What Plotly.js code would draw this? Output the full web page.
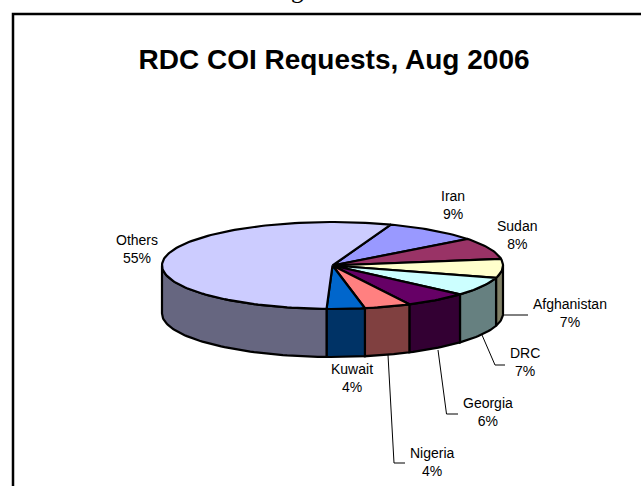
<!DOCTYPE html>
<html><head><meta charset="utf-8">
<script src="https://cdn.plot.ly/plotly-3.0.1.min.js"></script>
<style>html,body{margin:0;padding:0;background:#fff}#c{width:641px;height:486px}</style>
</head><body><div id="c"></div>
<script>
const categories = ["Iran","Sudan","Afghanistan","DRC","Georgia","Nigeria","Kuwait","Others"];
const values = [9,8,7,7,6,4.4,3.6,55];
const topColors = ["#9999FF","#993366","#FFFFCC","#CCFFFF","#660066","#FF8080","#0066CC","#CCCCFF"];
const sideColors = ["#4C4C80","#4C1933","#808066","#668080","#330033","#804040","#003366","#666680"];
const labelX = [453,517,570,525,488,432,352,137];
const labelY = [205,235,313,362,412,462,378,249];
const leaderX = [null,null,[503,528],[482,495,505],[438,446.5,458],[388,394,405],null,null];
const leaderY = [null,null,[315,315],[335,365,365],[350,414,414],[355,463,463],null,null];
const chartTitle = "RDC COI Requests, Aug 2006";

// Pie geometry, in page pixels
const cx=332.5, cy=265.5, rx=170.5, ry=43.5, depth=48, startDeg=20;
const px=t=>cx+rx*Math.sin(t*Math.PI/180), py=t=>cy-ry*Math.cos(t*Math.PI/180);
const total=values.reduce((a,b)=>a+b,0);
const black='#000';
const traces=[];
function arc(a,b,off){const xs=[],ys=[];const n=Math.max(2,Math.ceil((b-a)/1.5));
  for(let i=0;i<=n;i++){const t=a+(b-a)*i/n;xs.push(px(t));ys.push(py(t)+off);}return [xs,ys];}
function poly(x,y,fill,w){traces.push({type:'scatter',mode:'lines',x,y,fill:'toself',fillcolor:fill,
  line:{color:black,width:w,shape:'linear'},hoverinfo:'skip',showlegend:false});}
const spans=[];let acc=startDeg;
values.forEach(v=>{const s=acc,e=acc+v/total*360;spans.push([s,e]);acc=e;});
// walls on the visible front half of the rim (90 to 270 degrees)
spans.forEach(([s,e],i)=>{
  const a=Math.max(s,90), b=Math.min(e,270);
  if(b>a){const [tx,ty]=arc(a,b,0),[bx,by]=arc(a,b,depth);
    poly(tx.concat(bx.reverse(),[tx[0]]),ty.concat(by.reverse(),[ty[0]]),sideColors[i],2.2);}
});
// top faces
spans.forEach(([s,e],i)=>{
  const [tx,ty]=arc(s,e,0);
  poly([cx].concat(tx,[cx]),[cy].concat(ty,[cy]),topColors[i],2.2);
});
// leader lines
leaderX.forEach((lx,i)=>{ if(lx) traces.push({type:'scatter',mode:'lines',x:lx,y:leaderY[i],
  line:{color:black,width:1},hoverinfo:'skip',showlegend:false});});

const annotations=categories.map((c,i)=>({xref:'x',yref:'y',x:labelX[i],y:labelY[i],
  text:c+'<br>'+Math.round(values[i])+'%',showarrow:false,xanchor:'center',yanchor:'middle',align:'center',
  font:{family:'Liberation Sans',size:14,color:black}}));
annotations.push({xref:'paper',yref:'paper',x:297/641,y:1-4/486,xanchor:'center',yanchor:'bottom',
  text:'g',showarrow:false,borderpad:0,font:{family:'Liberation Serif',size:25,color:black}});

Plotly.newPlot('c',traces,{
  width:641,height:486,margin:{l:0,r:0,t:0,b:0},paper_bgcolor:'#fff',plot_bgcolor:'#fff',showlegend:false,
  title:{text:chartTitle,x:334/641,xanchor:'center',y:1-59/486,yanchor:'middle',
    font:{family:'Liberation Sans',size:28,color:black,weight:'bold'}},
  xaxis:{range:[0,641],visible:false,fixedrange:true},
  yaxis:{range:[486,0],visible:false,fixedrange:true},
  annotations,
  shapes:[{type:'rect',xref:'x',yref:'y',x0:13,y0:14,x1:660,y1:500,line:{color:black,width:2.5},fillcolor:'rgba(0,0,0,0)',layer:'below'}]
},{displayModeBar:false,staticPlot:true});
</script></body></html>
